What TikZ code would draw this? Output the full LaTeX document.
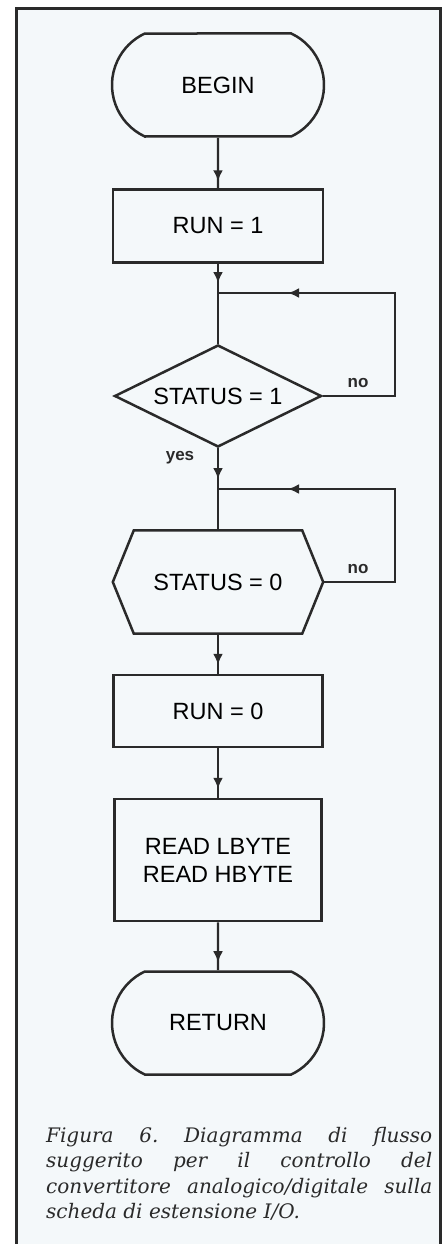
\documentclass[tikz,border=0pt]{standalone}
\usepackage{fontspec}
\setmainfont{Liberation Sans}
\newfontfamily\capfont{DejaVu Serif}
\usetikzlibrary{arrows.meta,shapes.geometric,shapes.misc,decorations.markings}
\definecolor{ink}{HTML}{2A2A2A}
\definecolor{paper}{HTML}{F4F8FA}
\tikzset{
  terminal/.style={rounded rectangle,rounded rectangle arc length=130,draw=ink,line width=2.5pt,minimum width=212pt,minimum height=103pt,inner sep=0pt,font=\fontsize{23.5}{28}\selectfont},
  process/.style={rectangle,draw=ink,line width=2.5pt,align=center,inner sep=0pt,font=\fontsize{23.5}{28}\selectfont},
  decision/.style={diamond,aspect=2,draw=ink,line width=2.5pt,minimum width=207pt,minimum height=102pt,inner sep=0pt,font=\fontsize{23.5}{28}\selectfont},
  hexcore/.style={rectangle,minimum width=168pt,minimum height=103pt,inner sep=0pt,font=\fontsize{23.5}{28}\selectfont},
  outline/.style={draw=ink,line width=2.5pt,line join=miter},
  flow/.style={draw=ink,line width=2.4pt},
  flowtip/.style={postaction={decorate},decoration={markings,mark=at position #1 with {\arrow{Latex[length=11pt,width=10pt]}}}},
  flowtip/.default=-7pt,
  answer/.style={font=\fontsize{17}{20}\selectfont\bfseries,text=ink,inner sep=0pt}
}

\begin{document}
\begin{tikzpicture}[x=1pt,y=-1pt]
  \useasboundingbox (0,0) rectangle (446,1244);
  % paper and frame
  \fill[paper] (16,9) rectangle (440,1244);
  \draw[ink,line width=3pt] (16,1244) -- (16,9) -- (440,9) -- (440,1244);

  % blocks
  \node[terminal] (begin) at (218,85) {BEGIN};
  \node[process,minimum width=210pt,minimum height=73pt] (run1) at (218,226) {RUN = 1};
  \coordinate (j1) at (218,293);
  \coordinate (back1) at (395,293);
  \node[decision] (test1) at (218,396) {STATUS = 1};
  \coordinate (j2) at (218,489);
  \coordinate (back2) at (395,489);
  \node[hexcore] (wait0) at (218,582) {STATUS = 0};
  \draw[outline] (wait0.north west) -- (wait0.north east) -- ([xshift=21pt]wait0.east)
    -- (wait0.south east) -- (wait0.south west) -- ([xshift=-21pt]wait0.west) -- cycle;
  \coordinate (wait0r) at ([xshift=21pt]wait0.east);
  \node[process,minimum width=209pt,minimum height=72pt] (run0) at (218,711) {RUN = 0};
  \node[process,minimum width=207pt,minimum height=122pt] (read) at (218,860) {READ LBYTE\\READ HBYTE};
  \node[terminal] (ret) at (218,1023) {RETURN};

  % connectors
  \draw[flow,flowtip] (begin) -- (run1);
  \draw[flow,flowtip=-10pt] (run1) -- (j1);
  \draw[flow] (j1) -- (test1);
  \draw[flow,flowtip=-70pt] (test1.east) -| (back1) -- (j1);
  \draw[flow,flowtip=-10pt] (test1.south) -- (j2);
  \draw[flow] (j2) -- (wait0.north);
  \draw[flow,flowtip=-70pt] (wait0r) -| (back2) -- (j2);
  \draw[flow,flowtip=-9pt] (wait0.south) -- (run0);
  \draw[flow,flowtip=-9pt] (run0) -- (read);
  \draw[flow,flowtip=-8pt] (read) -- (ret);

  \node[answer] (no1) at (358,383) {no};
  \node[answer] (yes1) at (180,458) {yes};
  \node[answer] (no2) at (358,569) {no};

  % caption
  \node[anchor=north west,inner sep=0pt,text width=386pt,align=justify,text=ink,
        font=\capfont\itshape\fontsize{20}{25.5}\selectfont\frenchspacing] (caption) at (46,1127)
    {Figura 6. Diagramma di flusso\linebreak suggerito per il controllo del\linebreak
     convertitore analogico/digitale sulla\linebreak scheda di estensione I/O.};
\end{tikzpicture}
\end{document}
